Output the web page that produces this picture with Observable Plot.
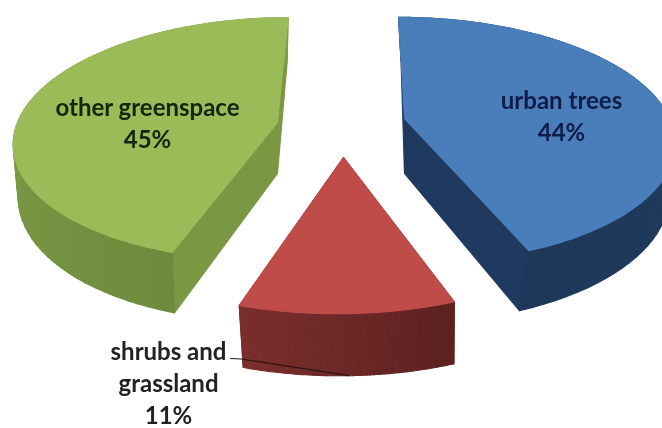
<!DOCTYPE html>
<html>
<head>
<meta charset="utf-8">
<script src="https://cdn.jsdelivr.net/npm/d3@7"></script>
<script src="https://cdn.jsdelivr.net/npm/@observablehq/plot@0.6"></script>
<style>
  html, body { margin: 0; padding: 0; background: #fff; overflow: hidden; }
  svg { display: block; filter: blur(0.45px); }
</style>
</head>
<body>
<div id="chart"></div>
<script>
// Chart values, clockwise from twelve o'clock
const categories = ["urban trees", "shrubs and\ngrassland", "other greenspace"];
const shares = [44, 11, 45];

// Styles
const faceColors = ["#4a7ebb", "#bf4c49", "#9bbb59"];
const sideColors = ["#1f3a5e", "#6b2725", "#7a9843"];
const wallColors = [
  ["#233f63", "#1e3859"],
  ["#5c2120", "#7b2f2d"],
  ["#6e8b3d", "#7f9e48", "#7f9e48"]
];
const textColors = ["#101c48", "#222222", "#14240f"];

// Perspective of each exploded slice: its top plane and its bottom plane
const topPlanes = [
  {cx: 404, cy: 118, rx: 265, ry: 119, p: 0.176, s: -7},
  {cx: 343, cy: 157, rx: 292, ry: 143, p: 0.085, s: 5.9},
  {cx: 277, cy: 122, rx: 260, ry: 119, p: 0.135, s: 12}
];
const bottomPlanes = [
  {cx: 404, cy: 173, rx: 262, ry: 128.6, p: 0.138, s: -4},
  {cx: 345, cy: 219, rx: 286, ry: 143, p: 0.085, s: 5.9},
  {cx: 277, cy: 173, rx: 255, ry: 127, p: 0.14, s: 11}
];
// Label anchors
const labelX = [561, 168, 147];
const labelY = [114, 381, 121];
const percentLines = shares.map((v) => v + "%");

const toRad = Math.PI / 180;
const project = (pl, deg) => {
  const X = Math.sin(deg * toRad), Y = Math.cos(deg * toRad), d = 1 + pl.p * Y;
  return [pl.cx + (pl.rx * X + pl.s * Y) / d, pl.cy - (pl.ry * Y) / d];
};
const apex = (pl) => [pl.cx, pl.cy];

// Slice angles come from the shares
const slices = [];
shares.reduce((start, v, i) => {
  slices.push({i, a0: start, a1: start + v * 3.6});
  return start + v * 3.6;
}, 0);

const polys = [];
const addPoly = (id, fill, pts) => pts.forEach(([x, y]) => polys.push({id, fill, x, y}));

// Back-to-front: green, blue, then red
[2, 0, 1].forEach((i) => {
  const {a0, a1} = slices[i];
  const T = topPlanes[i], B = bottomPlanes[i];
  // Flat cut faces
  [a0, a1].forEach((a, k) => addPoly(`side${i}-${k}`, sideColors[i],
    [apex(T), project(T, a), project(B, a), apex(B)]));
  // Outer wall, in strips for the shading
  const n = 60, ramp = d3.interpolateRgbBasis(wallColors[i]);
  d3.range(n).forEach((k) => {
    const u = a0 + (a1 - a0) * k / n, v = a0 + (a1 - a0) * (k + 1) / n;
    addPoly(`wall${i}-${k}`, ramp((k + 0.5) / n),
      [project(T, u), project(T, v), project(B, v), project(B, u)]);
  });
  // Top face
  addPoly(`top${i}`, faceColors[i],
    [apex(T), ...d3.range(0, 121).map((k) => project(T, a0 + (a1 - a0) * k / 120))]);
});

const labels = categories.map((c, i) => ({
  text: `${c}\n${percentLines[i]}`, x: labelX[i], y: labelY[i], color: textColors[i]
}));

// Leader from the shrubs label to the middle of the red slice
const redMid = project(bottomPlanes[1], (slices[1].a0 + slices[1].a1) / 2);
const leader = [[230, 358], [241, 358.5], redMid].map(([x, y]) => ({x, y}));

const chart = Plot.plot({
  width: 662,
  height: 428,
  margin: 0,
  style: {background: "#fff"},
  x: {domain: [0, 662], range: [0, 662], axis: null},
  y: {domain: [0, 428], range: [0, 428], axis: null},
  marks: [
    Plot.line(polys, {
      x: "x", y: "y", z: "id", fill: "fill",
      stroke: "fill", strokeWidth: 1.1, curve: "linear-closed"
    }),
    Plot.line(leader, {x: "x", y: "y", stroke: "#2a1414", strokeWidth: 1.2}),
    Plot.text(labels, {
      x: "x", y: "y", text: "text", fill: "color",
      fontFamily: "Lato", fontSize: 24, fontWeight: 700,
      lineHeight: 1.34, textAnchor: "middle", lineAnchor: "middle"
    })
  ]
});
document.getElementById("chart").appendChild(chart);
</script>
</body>
</html>
